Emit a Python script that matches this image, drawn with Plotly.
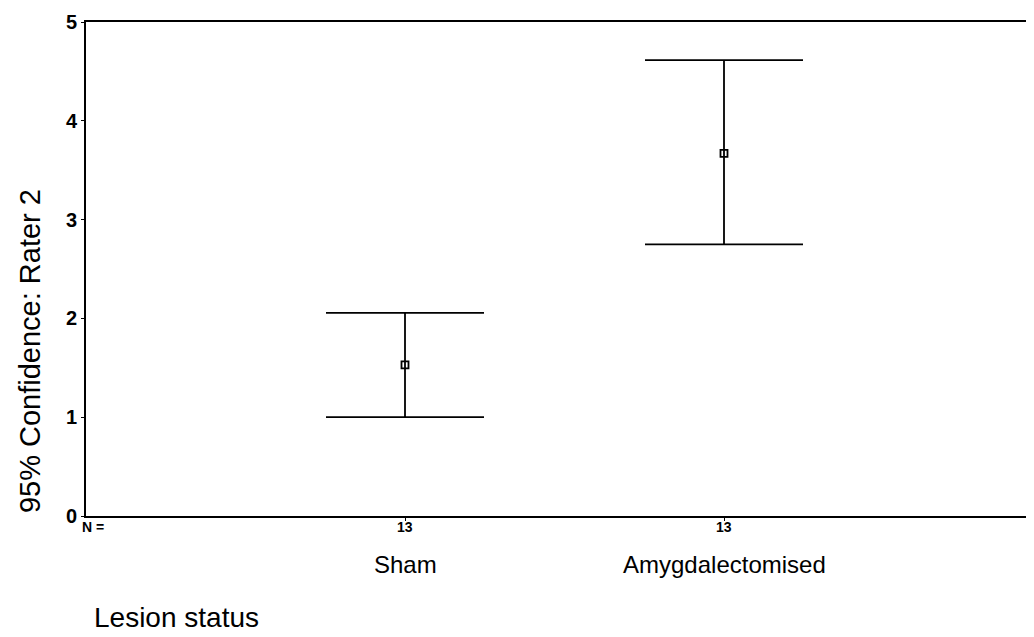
import plotly.graph_objects as go

groups = ["Sham", "Amygdalectomised"]
means = [1.53, 3.67]
upper = [2.055, 4.615]
lower = [1.00, 2.75]
n_counts = [13, 13]
y_ticks = [0, 1, 2, 3, 4, 5]

xpos = list(range(1, len(groups) + 1))
err_plus = [u - m for u, m in zip(upper, means)]
err_minus = [m - l for m, l in zip(means, lower)]

FONT = "Liberation Sans, Arial, sans-serif"
FONT_B = "Liberation Sans, Arial, sans-serif"

fig = go.Figure()
fig.add_trace(go.Scatter(
    x=xpos, y=means, mode="markers",
    marker=dict(symbol="square-open", size=7, color="black", line=dict(width=1.8, color="black")),
    error_y=dict(type="data", symmetric=False, array=err_plus, arrayminus=err_minus,
                 color="black", thickness=1.8, width=79),
    showlegend=False, hoverinfo="skip",
))

annotations = []
for x, n, g in zip(xpos, n_counts, groups):
    annotations.append(dict(x=x, y=-0.0223, xref="x", yref="paper", text="<b>%d</b>" % n, showarrow=False,
                            font=dict(family=FONT_B, size=14, color="black"), xanchor="center", yanchor="middle"))
    annotations.append(dict(x=x, y=-0.099, xref="x", yref="paper", text=g, showarrow=False,
                            font=dict(family=FONT, size=24, color="black"), xanchor="center", yanchor="middle"))
annotations.append(dict(x=-0.006, y=-0.0223, xref="paper", yref="paper", text="<b>N =</b>", showarrow=False,
                        font=dict(family=FONT_B, size=14, color="black"), xanchor="left", yanchor="middle"))
annotations.append(dict(x=0.006, y=-0.2045, xref="paper", yref="paper", text="Lesion status", showarrow=False,
                        font=dict(family=FONT, size=28, color="black"), xanchor="left", yanchor="middle"))
annotations.append(dict(x=-0.059, y=0.334, xref="paper", yref="paper", text="95% Confidence: Rater 2",
                        showarrow=False, textangle=-90,
                        font=dict(family=FONT, size=29, color="black"), xanchor="center", yanchor="middle"))

fig.update_layout(
    width=1026, height=629,
    margin=dict(l=78, r=0, t=14, b=121),
    paper_bgcolor="white", plot_bgcolor="white",
    annotations=annotations,
    xaxis=dict(range=[0, 948 / 319], tickvals=xpos, ticktext=["", ""], showgrid=False, zeroline=False,
               showline=True, linecolor="black", linewidth=1.8, mirror=True,
               ticks="outside", ticklen=3, tickcolor="black"),
    yaxis=dict(range=[0, 5], tickvals=y_ticks, ticktext=["<b>%d</b>" % v for v in y_ticks],
               showgrid=False, zeroline=False,
               showline=True, linecolor="black", linewidth=1.8, mirror=False,
               ticks="outside", ticklen=3, tickcolor="black",
               tickfont=dict(family=FONT_B, size=20, color="black")),
)

fig.write_html("out.html")
